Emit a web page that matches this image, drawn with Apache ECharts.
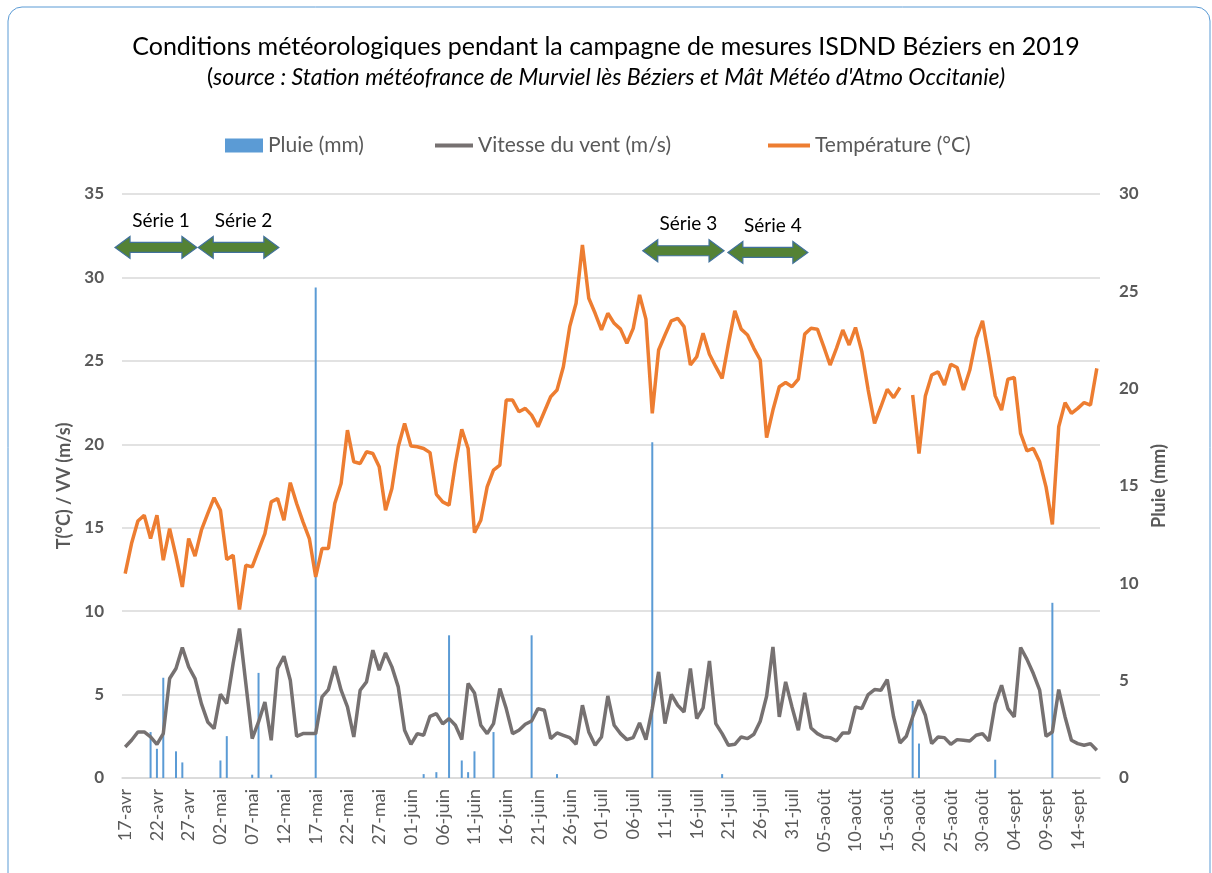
<!DOCTYPE html>
<html>
<head>
<meta charset="utf-8">
<script src="https://cdn.jsdelivr.net/npm/echarts@6/dist/echarts.min.js"></script>
<style>
  html, body { margin: 0; padding: 0; background: #fff; }
  #myChart { width: 1212px; height: 873px; }
</style>
</head>
<body>
<div id="myChart"></div>
<script>
  // mois couverts par la campagne : nom, premier jour, dernier jour
  var months = ['avr', 'mai', 'juin', 'juil', 'août', 'sept']
  var monthFirst = [17, 1, 1, 1, 1, 1]
  var monthLast = [30, 31, 30, 31, 31, 17]

  // température journalière (°C), axe gauche ; null = pas de mesure
  var temperature = [
    12.25, 14.05, 15.4, 15.75, 14.35, 15.75, 13.05, 14.95, 13.3, 11.45,
    14.35, 13.3, 14.85, 15.85, 16.8, 16.05, 13.1, 13.35, 10.1, 12.75,
    12.65, 13.65, 14.65, 16.55, 16.75, 15.45, 17.7, 16.45, 15.35, 14.35,
    12.05, 13.75, 13.75, 16.45, 17.65, 20.85, 18.95, 18.85, 19.55, 19.45,
    18.65, 16.05, 17.35, 19.85, 21.25, 19.9, 19.85, 19.75, 19.5, 17.0,
    16.55, 16.35, 18.85, 20.9, 19.75, 14.7, 15.45, 17.45, 18.45, 18.75,
    22.65, 22.65, 21.95, 22.15, 21.75, 21.05, 21.95, 22.85, 23.25, 24.65,
    27.05, 28.45, 31.95, 28.75, 27.85, 26.85, 27.85, 27.25, 26.9, 26.05,
    26.95, 28.95, 27.5, 21.85, 25.65, 26.55, 27.4, 27.55, 27.05, 24.75,
    25.25, 26.65, 25.4, 24.65, 23.95, 26.05, 28.0, 26.9, 26.55, 25.75,
    25.05, 20.4, 22.05, 23.45, 23.7, 23.45, 23.9, 26.6, 26.95, 26.9,
    25.85, 24.75, 25.75, 26.85, 25.95, 27.0, 25.55, 23.25, 21.25, 22.25,
    23.3, 22.8, 23.4, null, 22.95, 19.45, 22.9, 24.15, 24.35, 23.55,
    24.8, 24.6, 23.25, 24.45, 26.35, 27.4, 25.25, 22.9, 22.05, 23.9,
    24.0, 20.65, 19.6, 19.75, 18.95, 17.45, 15.2, 21.05, 22.5, 21.85,
    22.15, 22.5, 22.35, 24.55
  ]

  // vitesse du vent (m/s), axe gauche
  var windSpeed = [
    1.86, 2.26, 2.76, 2.76, 2.46, 2.02, 2.66, 5.96, 6.56, 7.82,
    6.66, 5.96, 4.46, 3.36, 2.96, 5.02, 4.46, 6.86, 8.96, 5.66,
    2.36, 3.36, 4.56, 2.26, 6.56, 7.3, 5.86, 2.5, 2.66, 2.66,
    2.66, 4.86, 5.3, 6.7, 5.26, 4.26, 2.46, 5.26, 5.76, 7.66,
    6.46, 7.5, 6.66, 5.46, 2.86, 2.02, 2.66, 2.56, 3.7, 3.86,
    3.24, 3.56, 3.16, 2.3, 5.66, 5.1, 3.16, 2.66, 3.26, 5.36,
    4.16, 2.66, 2.86, 3.22, 3.42, 4.16, 4.06, 2.36, 2.7, 2.56,
    2.42, 2.02, 4.36, 2.76, 1.96, 2.46, 4.92, 3.16, 2.66, 2.3,
    2.42, 3.3, 2.3, 4.16, 6.36, 3.26, 5.01, 4.36, 3.96, 6.56,
    3.56, 4.2, 7.02, 3.26, 2.66, 1.96, 2.02, 2.46, 2.36, 2.62,
    3.4, 4.9, 7.86, 3.66, 5.76, 4.26, 2.86, 5.1, 3.0, 2.66,
    2.46, 2.42, 2.22, 2.7, 2.7, 4.26, 4.16, 5.0, 5.3, 5.26,
    5.9, 3.66, 2.1, 2.5, 3.66, 4.66, 3.76, 2.06, 2.46, 2.42,
    2.02, 2.3, 2.26, 2.22, 2.56, 2.66, 2.22, 4.46, 5.56, 4.16,
    3.66, 7.82, 7.11, 6.26, 5.26, 2.5, 2.76, 5.3, 3.66, 2.26,
    2.06, 1.96, 2.06, 1.66
  ]

  // jours de pluie (mm), axe droit
  var rainDays = ['21-avr', '22-avr', '23-avr', '25-avr', '26-avr', '02-mai', '03-mai', '07-mai', '08-mai',
    '10-mai', '17-mai', '03-juin', '05-juin', '07-juin', '09-juin', '10-juin', '11-juin', '14-juin',
    '20-juin', '24-juin', '09-juil', '20-juil', '19-août', '20-août', '01-sept', '10-sept']
  var rainMm = [2.36, 1.5, 5.15, 1.37, 0.8, 0.9, 2.15, 0.17, 5.4,
    0.17, 25.2, 0.2, 0.3, 7.33, 0.9, 0.3, 1.37, 2.36,
    7.33, 0.2, 17.25, 0.2, 3.96, 1.77, 0.94, 9.0]

  // séries de mesures : début / fin (rang du jour) et hauteur (°C)
  var serieNames = ['Série 1', 'Série 2', 'Série 3', 'Série 4']
  var serieStart = [-1.6, 11.5, 81.5, 94.9]
  var serieEnd = [11.3, 24.2, 94.3, 107.5]
  var serieLevel = [31.8, 31.8, 31.6, 31.5]

  var days = []
  months.forEach(function (m, k) {
    for (var d = monthFirst[k]; d <= monthLast[k]; d++) {
      days.push((d < 10 ? '0' : '') + d + '-' + m)
    }
  })

  var rain = days.map(function (d) {
    var k = rainDays.indexOf(d)
    return k >= 0 ? rainMm[k] : null
  })

  var FONT = 'Lato'
  var GREY = '#595959'

  function renderArrow (params, api) {
    var k = params.dataIndex
    var base = api.coord([0, serieLevel[k]])
    var bw = api.size([1, 0])[0]
    var xs = base[0] + serieStart[k] * bw
    var xe = base[0] + serieEnd[k] * bw
    var y = base[1]
    var hl = 15, hh = 11, st = 5
    return {
      type: 'group',
      children: [{
        type: 'polygon',
        shape: {
          points: [[xs, y], [xs + hl, y - hh], [xs + hl, y - st], [xe - hl, y - st], [xe - hl, y - hh],
            [xe, y], [xe - hl, y + hh], [xe - hl, y + st], [xs + hl, y + st], [xs + hl, y + hh]]
        },
        style: { fill: '#548235', stroke: '#41719C', lineWidth: 1.2 }
      }, {
        type: 'text',
        x: (xs + xe) / 2 + 5,
        y: y - 27,
        style: {
          text: serieNames[k], fill: '#000', font: '19px ' + FONT,
          align: 'center', verticalAlign: 'middle'
        }
      }]
    }
  }

  var legendText = { fontFamily: FONT, fontSize: 21, color: GREY }

  var option = {
    animation: false,
    backgroundColor: '#fff',
    title: [{
      text: 'Conditions météorologiques pendant la campagne de mesures ISDND Béziers en 2019',
      left: 'center',
      top: 29,
      textStyle: { fontFamily: FONT, fontSize: 25, fontWeight: 'normal', color: '#000' }
    }, {
      text: '{n|(}{i|source : Station météofrance de Murviel lès Béziers et Mât Météo d\'Atmo Occitanie)}',
      left: 'center',
      top: 61,
      textStyle: {
        fontWeight: 'normal',
        rich: {
          n: { fontFamily: FONT, fontSize: 23, fontWeight: 'normal', color: '#000' },
          i: { fontFamily: FONT, fontSize: 23, fontWeight: 'normal', fontStyle: 'italic', color: '#000' }
        }
      }
    }],
    legend: [{
      data: [{ name: 'Pluie (mm)', icon: 'rect' }], left: 220, top: 130,
      itemWidth: 38, itemHeight: 14,
      textStyle: legendText
    }, {
      data: [{ name: 'Vitesse du vent (m/s)', icon: 'rect' }], left: 430, top: 130,
      itemWidth: 38, itemHeight: 4,
      textStyle: legendText
    }, {
      data: [{ name: 'Température (°C)', icon: 'rect' }], left: 763, top: 130,
      itemWidth: 42, itemHeight: 4,
      textStyle: legendText
    }],
    graphic: [{
      type: 'rect',
      shape: { x: 8, y: 7, width: 1202, height: 900, r: 14 },
      style: { fill: 'none', stroke: '#5B9BD5', lineWidth: 1 },
      silent: true
    }],
    grid: { left: 122, right: 112, top: 194, bottom: 95 },
    xAxis: {
      type: 'category',
      data: days,
      boundaryGap: true,
      axisLine: { lineStyle: { color: '#D9D9D9', width: 1.5 } },
      axisTick: { show: false },
      axisLabel: {
        rotate: 90, interval: 4, margin: 11,
        fontFamily: FONT, fontSize: 18, color: GREY
      }
    },
    yAxis: [{
      type: 'value', min: 0, max: 35, interval: 5,
      name: 'T(°C) / VV (m/s)', nameLocation: 'middle', nameGap: 40,
      nameTextStyle: { fontFamily: FONT, fontSize: 18, fontWeight: 'bold', color: GREY },
      axisLine: { show: false },
      axisTick: { show: false },
      axisLabel: { margin: 18, fontFamily: FONT, fontSize: 17, fontWeight: 'bold', color: GREY },
      splitLine: { lineStyle: { color: '#D9D9D9', width: 1.5 } }
    }, {
      type: 'value', min: 0, max: 30, interval: 5, position: 'right',
      name: 'Pluie (mm)', nameLocation: 'middle', nameGap: 50,
      nameTextStyle: { fontFamily: FONT, fontSize: 18, fontWeight: 'bold', color: GREY },
      axisLine: { show: false },
      axisTick: { show: false },
      axisLabel: { margin: 19, fontFamily: FONT, fontSize: 17, fontWeight: 'bold', color: GREY },
      splitLine: { show: false }
    }],
    series: [{
      name: 'Pluie (mm)',
      type: 'bar',
      yAxisIndex: 1,
      barWidth: 2,
      itemStyle: { color: '#5B9BD5' },
      data: rain,
      z: 1
    }, {
      name: 'Vitesse du vent (m/s)',
      type: 'line',
      yAxisIndex: 0,
      symbol: 'none',
      lineStyle: { color: '#767171', width: 3.5 },
      itemStyle: { color: '#767171' },
      data: windSpeed,
      z: 2
    }, {
      name: 'Température (°C)',
      type: 'line',
      yAxisIndex: 0,
      symbol: 'none',
      connectNulls: false,
      lineStyle: { color: '#ED7D31', width: 3.5 },
      itemStyle: { color: '#ED7D31' },
      data: temperature,
      z: 3
    }, {
      name: 'séries',
      type: 'custom',
      yAxisIndex: 0,
      clip: false,
      renderItem: renderArrow,
      data: serieNames.map(function (n, k) { return [k, serieLevel[k]] }),
      z: 5
    }]
  }

  var myChart = echarts.init(document.getElementById('myChart'))
  myChart.setOption(option)
</script>
</body>
</html>
